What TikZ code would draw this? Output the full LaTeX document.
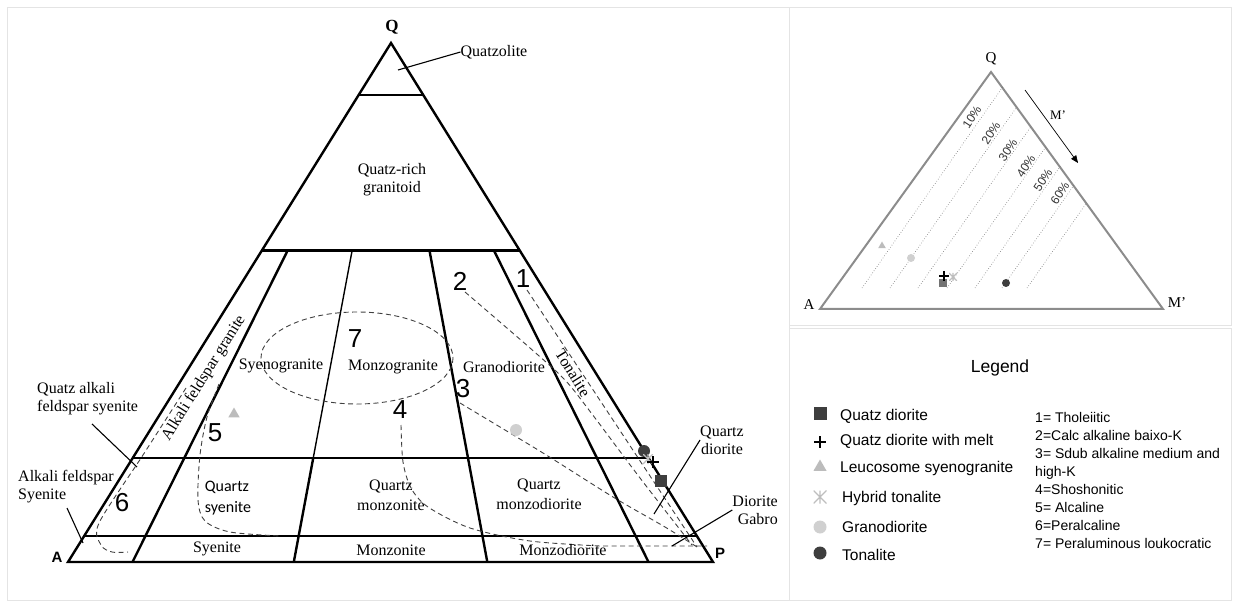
\documentclass[tikz,border=0pt]{standalone}
\usepackage{fontspec}
\setmainfont{Liberation Serif}
\setsansfont{Liberation Sans}
\newfontfamily\calibfont{Carlito}
\usetikzlibrary{arrows,shapes.geometric}
\definecolor{darkcol}{RGB}{62,62,62}
\definecolor{lightcol}{RGB}{208,208,208}
\definecolor{tricol}{RGB}{188,188,188}
\definecolor{starcol}{RGB}{190,190,190}
\definecolor{panecol}{RGB}{228,228,228}
\definecolor{terncol}{RGB}{140,140,140}

\begin{document}
\begin{tikzpicture}[x=1pt,y=-1pt]
    \tikzset{edge/.style = {draw=black, line width=2.4pt}}
    \tikzset{thinedge/.style = {draw=black, line width=1.4pt}}
    \tikzset{series/.style = {draw=black!75, line width=0.9pt, dash pattern=on 5pt off 3.5pt}}
    \tikzset{leader/.style = {draw=black, line width=1.1pt}}
    \tikzset{rock/.style = {font=\fontsize{16}{18}\selectfont, align=center, inner sep=0pt}}
    \tikzset{num/.style = {font=\sffamily\fontsize{26}{26}\selectfont, inner sep=0pt}}
    \tikzset{corner/.style = {font=\sffamily\bfseries\fontsize{15}{15}\selectfont, inner sep=0pt}}
    \tikzset{legtext/.style = {font=\sffamily\fontsize{15.5}{16}\selectfont, anchor=base west, inner sep=0pt}}
    \tikzset{seriestext/.style = {font=\sffamily\fontsize{14}{16}\selectfont, anchor=base west, inner sep=0pt}}
    \tikzset{ternlab/.style = {font=\fontsize{15}{15}\selectfont, inner sep=0pt}}
    \tikzset{sqmark/.style = {shape=rectangle, fill=darkcol, minimum size=#1, inner sep=0pt}}
    \tikzset{dotmark/.style = {shape=circle, fill=#1, minimum size=12pt, inner sep=0pt}}
    \tikzset{trimark/.style = {shape=regular polygon, regular polygon sides=3, fill=tricol, minimum size=#1, inner sep=0pt}}
    \tikzset{plusmark/.style = {minimum size=#1, inner sep=0pt, path picture={
        \draw[line width=1.5pt] (path picture bounding box.north) -- (path picture bounding box.south)
            (path picture bounding box.west) -- (path picture bounding box.east);}}}
    \tikzset{starmark/.style = {minimum size=#1, inner sep=0pt, path picture={
        \draw[starcol, line width=1.2pt] (path picture bounding box.north) -- (path picture bounding box.south)
            (path picture bounding box.north west) -- (path picture bounding box.south east)
            (path picture bounding box.north east) -- (path picture bounding box.south west);}}}

    \useasboundingbox (0,0) rectangle (1233,601);

    % panels
    \draw[panecol, line width=0.8pt] (7,7) rectangle (789,600);
    \draw[panecol, line width=0.8pt] (789,7) rectangle (1231,325);
    \draw[panecol, line width=0.8pt] (789,328) rectangle (1231,600);

    % vertices
    \coordinate (A) at (68,562);
    \coordinate (P) at (713,562);
    \coordinate (Q) at (391,43);
    \node[font=\bfseries\fontsize{17}{17}\selectfont, inner sep=0pt] (qlab) at (392,27) {Q};
    \node[corner] (alab) at (57,557) {A};
    \node[corner] (plab) at (720,553) {P};

    % fields
    \draw[edge, line join=miter] (A) -- (Q) -- (P) -- cycle;
    \draw[edge] (358.7,94.9) -- (423.2,94.9);
    \draw[edge] (261.8,250.6) -- (519.8,250.6);
    \draw[edge] (132.6,458.2) -- (648.6,458.2);
    \draw[edge] (84.2,536.1) -- (696.9,536.1);
    \draw[edge] (287.6,250.6) -- (132.5,562);
    \draw[thinedge] (352.1,250.6) -- (313.2,458.2);
    \draw[edge] (313.2,458.2) -- (293.8,562);
    \draw[edge] (429.5,250.6) -- (487.3,562);
    \draw[edge] (494.0,250.6) -- (648.5,562);

    % series
    \draw[series] (527,290) -- (697,547);
    \draw[series] plot[smooth] coordinates {(465,292) (530,348) (565,380) (592,414) (640,478) (692,545)};
    \draw[series] plot[smooth] coordinates {(460,403) (543,453) (613,497) (665,527) (697,547)};
    \draw[series] plot[smooth] coordinates {(401,425) (403,462) (411,488) (428,507) (470,528) (530,541) (600,546)} -- (707,546);
    \draw[series] plot[smooth] coordinates {(219,384) (207,417) (200,455) (198,500) (205,521) (230,532) (280,536)};
    \draw[series] plot[smooth] coordinates {(186,388) (143,455) (99,523) (101,545) (112,552) (128,552)};
    \draw[series] (357,358) ellipse [x radius=96, y radius=46];

    % labels
    \node[rock] (qzl) at (494,52) {Quatzolite};
    \coordinate (qzlend) at (398,70);
    \draw[leader] (qzl.west) -- (qzlend);
    \node[rock] (qrich) at (392,180) {Quatz-rich\\granitoid};
    \node[rock, rotate=58] (afg) at (204,378) {Alkali feldspar granite};
    \node[rock] (syg) at (281,366) {Syenogranite};
    \node[rock] (mzg) at (393,367) {Monzogranite};
    \node[rock] (grd) at (504,367) {Granodiorite};
    \node[rock, rotate=-58] (ton) at (573,373) {Tonalite};
    \node[rock, font=\calibfont\fontsize{16}{21}\selectfont, align=left] (qsy) at (228,498) {Quartz\\syenite};
    \node[rock, font=\fontsize{16}{20}\selectfont] (qmz) at (391,495) {Quartz\\monzonite};
    \node[rock, font=\fontsize{16}{20}\selectfont] (qmd) at (539,494) {Quartz\\monzodiorite};
    \node[rock] (sye) at (217,549) {Syenite};
    \node[rock] (mzn) at (391,550) {Monzonite};
    \node[rock] (mzd) at (563,550) {Monzodiorite};
    \node[rock, align=left, anchor=west] (qafs) at (37,399) {Quatz alkali\\feldspar syenite};
    \coordinate (qafsend) at (137,467);
    \draw[leader] (92,424) -- (qafsend);
    \node[rock, align=left, anchor=west] (afs) at (18,487) {Alkali feldspar\\Syenite};
    \coordinate (afsend) at (83,543);
    \draw[leader] (67,508) -- (afsend);
    \node[rock] (qdio) at (722,440) {Quartz\\diorite};
    \coordinate (qdioend) at (654,514);
    \draw[leader] (qdio.west) -- (qdioend);
    \node[rock, align=right, anchor=east] (dgab) at (778,510) {Diorite\\Gabro};
    \coordinate (dgabend) at (672,546);
    \draw[leader] (dgab.west) -- (dgabend);

    % numbers
    \node[num] (n1) at (523,279) {1};
    \node[num] (n2) at (460,281) {2};
    \node[num] (n3) at (463,389) {3};
    \node[num] (n4) at (400,410) {4};
    \node[num] (n5) at (215,433) {5};
    \node[num] (n6) at (122,503) {6};
    \node[num] (n7) at (355,339) {7};

    % samples
    \node[trimark=13pt] (s1) at (234,414) {};
    \node[dotmark=lightcol] (s2) at (516,430) {};
    \node[dotmark=darkcol] (s3) at (644,451) {};
    \node[starmark=10pt] (s4) at (648,459) {};
    \node[plusmark=12pt] (s5) at (653,462) {};
    \node[sqmark=12pt] (s6) at (661,481) {};

    % small triangle
    \coordinate (A2) at (820,309);
    \coordinate (M2) at (1163,309);
    \coordinate (Q2) at (991,72);
    \draw[terncol, line width=2pt, line join=miter] (A2) -- (Q2) -- (M2) -- cycle;
    \node[ternlab] (q2lab) at (991,59) {Q};
    \node[ternlab] (a2lab) at (809,305) {A};
    \node[ternlab] (m2lab) at (1177,303) {M’};
    \foreach \xb in {862,890,918,947,975,1002,1027}
        \draw[black!55, line width=0.6pt, dotted] (\xb,288) -- ({\xb+0.7*(288-(\xb-737.85)/1.4257)},{(\xb-737.85)/1.4257});
    \foreach \p/\x/\y in {10/972/117, 20/991/133, 30/1008/150, 40/1026/166, 50/1043/180, 60/1060/193}
        \node[font=\sffamily\fontsize{12}{12}\selectfont, text=black!80, rotate=57, inner sep=0pt] at (\x,\y) {\p\%};
    \coordinate (arrtop) at (1025,90);
    \coordinate (arrbot) at (1078,163);
    \draw[-triangle 45, line width=0.7pt] (arrtop) -- (arrbot);
    \node[font=\fontsize{13}{13}\selectfont, inner sep=0pt] (mlab) at (1058,115) {M’};
    \node[trimark=9pt] (t1) at (882,246) {};
    \node[dotmark=lightcol, minimum size=8pt] (t2) at (911,258) {};
    \node[starmark=8pt] (t4) at (953,277) {};
    \node[sqmark=8pt, fill=black!55] (t6) at (943,283) {};
    \node[plusmark=10pt] (t5) at (944,276) {};
    \node[dotmark=darkcol, minimum size=8pt] (t3) at (1006,283) {};

    % legend
    \node[font=\sffamily\fontsize{17.5}{18}\selectfont, inner sep=0pt] (leg) at (1000,368) {Legend};
    \node[sqmark=13pt] (l1) at (820,413) {};
    \node[legtext] at (840,420) {Quatz diorite};
    \node[plusmark=12pt] (l2) at (820,442) {};
    \node[legtext] at (840,445) {Quatz diorite with melt};
    \node[trimark=15pt] (l3) at (820,467) {};
    \node[legtext] at (840,472) {Leucosome syenogranite};
    \node[starmark=13pt] (l4) at (820,497) {};
    \node[legtext] at (842,502) {Hybrid tonalite};
    \node[dotmark=lightcol, minimum size=13pt] (l5) at (820,527) {};
    \node[legtext] at (842,532) {Granodiorite};
    \node[dotmark=darkcol, minimum size=13pt] (l6) at (820,553) {};
    \node[legtext] at (842,560) {Tonalite};
    \foreach \t [count=\i from 0] in {1= Tholeiitic, 2=Calc alkaline baixo-K, 3= Sdub alkaline medium and, high-K, 4=Shoshonitic, 5= Alcaline, 6=Peralcaline, 7= Peraluminous loukocratic}
        \node[seriestext] at (1035,422+18*\i) {\t};
\end{tikzpicture}
\end{document}
